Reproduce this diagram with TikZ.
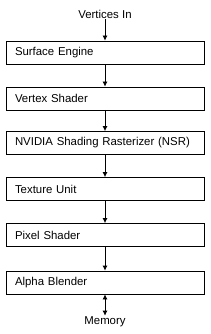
\documentclass[tikz,border=0pt]{standalone}
\usepackage{fontspec}
\setmainfont{Liberation Sans}
\usetikzlibrary{arrows.meta}

\begin{document}
\begin{tikzpicture}[x=1pt, y=-1pt,
  stage/.style={draw, line width=0.8pt, minimum width=198pt, minimum height=23pt,
    text width=180pt, inner xsep=9pt, align=left, font=\fontsize{11.4}{12}\selectfont},
  label/.style={font=\fontsize{11.4}{12}\selectfont, inner sep=1pt},
  flow/.style={line width=0.8pt, -{Latex[length=5pt, width=5pt]}}]
  \useasboundingbox (0,0) rectangle (210,334);
  % Input and output labels.
  \node[label] (vin) at (105,14) {Vertices In};
  \node[label] (mem) at (105,322) {Memory};
  % Pipeline stages, top to bottom.
  \node[stage] (surf) at (105,52.5)  {Surface Engine};
  \node[stage] (vert) at (105,98.5)  {Vertex Shader};
  \node[stage] (nsr)  at (105,143)   {NVIDIA Shading Rasterizer (NSR)};
  \node[stage] (tex)  at (105,189)   {Texture Unit};
  \node[stage] (pix)  at (105,235)   {Pixel Shader};
  \node[stage] (alph) at (105,282.5) {Alpha Blender};
  % Connectors between stages.
  \foreach \a/\b in {vin/surf, surf/vert, vert/nsr, nsr/tex, tex/pix, pix/alph}
    \draw[flow] (\a.south) -- (\b.north);
  % Memory read/write.
  \draw[line width=0.8pt, {Latex[length=5pt, width=5pt]}-{Latex[length=5pt, width=5pt]}]
    (alph.south) -- (mem.north);
\end{tikzpicture}
\end{document}
